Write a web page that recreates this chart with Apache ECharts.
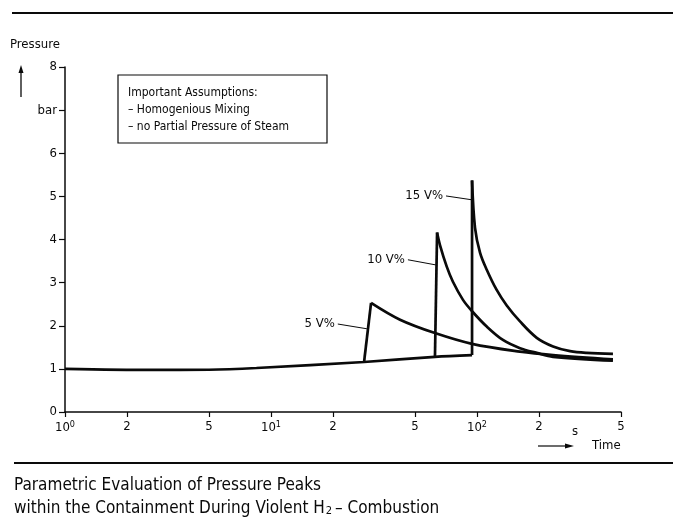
<!DOCTYPE html>
<html><head><meta charset="utf-8">
<script src="https://cdn.jsdelivr.net/npm/echarts@6/dist/echarts.min.js"></script>
<style>html,body{margin:0;padding:0;background:#fff}#c{width:673px;height:522px}</style>
</head><body><div id="c"></div>
<script>
const FONT = '"Liberation Sans Narrow","DejaVu Sans Condensed","Liberation Sans",sans-serif';
const INK = '#0a0a0a';

// x axis (time, s, logarithmic)
const tickTimes = [1, 2, 5, 10, 20, 50, 100, 200, 500];
const tickLabels = ['{b|10}{s|0}', '2', '5', '{b|10}{s|1}', '2', '5', '{b|10}{s|2}', '2', '5'];
// y axis (pressure, bar)
const yTicks = [0, 1, 2, 3, 4, 5, 6, 7, 8];
const yTickLabels = ['0', '1', '2', '3', '4', '5', '6', 'bar', '8'];

// common pre-combustion baseline
const baseTime = [1, 2.6, 5, 8.5, 28.3, 62.5, 94.6];
const basePressure = [1.0, 0.975, 0.98, 1.02, 1.16, 1.28, 1.32];

// 5 V% : ignition + decay
const v5Time = [28.3, 30.6, 42.3, 62.5, 94.6, 161.7, 234, 457];
const v5Pressure = [1.16, 2.53, 2.14, 1.83, 1.58, 1.40, 1.32, 1.22];
// 10 V%
const v10Time = [62.5, 64, 66.1, 71.3, 76.4, 85.5, 94.9, 111.5, 133.6, 161.7, 195, 234, 457];
const v10Pressure = [1.28, 4.16, 3.87, 3.37, 3.02, 2.6, 2.33, 1.98, 1.67, 1.48, 1.37, 1.28, 1.19];
// 15 V%
const v15Time = [94.6, 94.6, 97.8, 103.5, 111.5, 124.6, 139.4, 161.7, 195, 234, 283, 341, 457];
const v15Pressure = [1.32, 5.37, 4.27, 3.69, 3.3, 2.83, 2.47, 2.1, 1.72, 1.52, 1.41, 1.37, 1.35];

// curve labels with leader lines
const curveNames = ['5 V%', '10 V%', '15 V%'];
const leaderStartTime = [21.1, 46.2, 70.7];
const leaderStartP = [2.04, 3.53, 5.01];
const leaderEndTime = [29.2, 63.2, 94.6];
const leaderEndP = [1.93, 3.41, 4.92];

const lg = t => Math.log10(t);
const pairs = (ts, ps) => ts.map((t, i) => [lg(t), ps[i]]);

const curves = [[v5Time, v5Pressure], [v10Time, v10Pressure], [v15Time, v15Pressure]];
const series = [];
series.push({
  type: 'line', data: pairs(baseTime, basePressure), symbol: 'none', smooth: 0.3,
  lineStyle: { color: INK, width: 2.7 }, silent: true, z: 3
});
curves.forEach((c, k) => {
  const d = pairs(c[0], c[1]);
  series.push({
    type: 'line', data: d.slice(0, 2), symbol: 'none',
    lineStyle: { color: INK, width: 2.7 }, silent: true, z: 3
  });
  series.push({
    type: 'line', data: d.slice(1), symbol: 'none', smooth: 0.35,
    lineStyle: { color: INK, width: 2.7 }, silent: true, z: 3,
    markLine: {
      silent: true, symbol: 'none', animation: false,
      lineStyle: { color: INK, width: 1, type: 'solid' },
      label: {
        show: true, position: 'start', formatter: curveNames[k], distance: 3,
        color: INK, fontFamily: FONT, fontSize: 13
      },
      data: [[
        { coord: [lg(leaderStartTime[k]), leaderStartP[k]] },
        { coord: [lg(leaderEndTime[k]), leaderEndP[k]] }
      ]]
    }
  });
});

const tickLogs = tickTimes.map(lg);
const chart = echarts.init(document.getElementById('c'), null, { renderer: 'canvas' });
chart.setOption({
  animation: false,
  backgroundColor: '#fff',
  grid: { left: 65, right: 52, top: 67, bottom: 110 },
  xAxis: {
    type: 'value', min: 0, max: lg(500),
    axisLine: { lineStyle: { color: INK, width: 1.5 } },
    axisTick: { show: true, length: 5, lineStyle: { color: INK, width: 1.2 }, customValues: tickLogs },
    splitLine: { show: false },
    axisLabel: {
      customValues: tickLogs, margin: 8, color: INK, fontFamily: FONT, fontSize: 13,
      formatter: v => {
        let best = 0;
        tickLogs.forEach((tv, i) => { if (Math.abs(tv - v) < Math.abs(tickLogs[best] - v)) best = i; });
        return tickLabels[best];
      },
      rich: {
        b: { fontFamily: FONT, fontSize: 13, color: INK },
        s: { fontFamily: FONT, fontSize: 9, color: INK, verticalAlign: 'top', padding: [0, 0, 7, 0] }
      }
    }
  },
  yAxis: {
    type: 'value', min: 0, max: 8, interval: 1,
    axisLine: { show: true, lineStyle: { color: INK, width: 1.5 } },
    axisTick: { show: true, length: 6, lineStyle: { color: INK, width: 1.2 } },
    splitLine: { show: false },
    axisLabel: {
      margin: 8, color: INK, fontFamily: FONT, fontSize: 13,
      formatter: v => yTickLabels[yTicks.indexOf(Math.round(v))]
    }
  },
  series: series,
  graphic: [
    { type: 'line', shape: { x1: 12, y1: 13, x2: 673, y2: 13 }, style: { stroke: INK, lineWidth: 2 } },
    { type: 'line', shape: { x1: 14, y1: 463, x2: 673, y2: 463 }, style: { stroke: INK, lineWidth: 2 } },
    { type: 'text', left: 10, top: 38, style: { text: 'Pressure', font: '13px ' + FONT, fill: INK } },
    { type: 'line', shape: { x1: 21, y1: 97, x2: 21, y2: 72 }, style: { stroke: INK, lineWidth: 1.3 } },
    { type: 'polygon', shape: { points: [[21, 65], [18.5, 73], [23.5, 73]] }, style: { fill: INK } },
    { type: 'rect', shape: { x: 118, y: 75, width: 209, height: 68 }, style: { fill: '#fff', stroke: INK, lineWidth: 1.2 }, z: 10 },
    { type: 'text', x: 128, y: 87, style: { text: 'Important Assumptions:', font: '12px ' + FONT, fill: INK }, z: 11 },
    { type: 'text', x: 128, y: 104, style: { text: '– Homogenious Mixing', font: '12px ' + FONT, fill: INK }, z: 11 },
    { type: 'text', x: 128, y: 121, style: { text: '– no Partial Pressure of Steam', font: '12px ' + FONT, fill: INK }, z: 11 },
    { type: 'text', x: 572, y: 425, style: { text: 's', font: '13px ' + FONT, fill: INK } },
    { type: 'line', shape: { x1: 538, y1: 446, x2: 566, y2: 446 }, style: { stroke: INK, lineWidth: 1.2 } },
    { type: 'polygon', shape: { points: [[574, 446], [565, 443.5], [565, 448.5]] }, style: { fill: INK } },
    { type: 'text', x: 592, y: 439, style: { text: 'Time', font: '13px ' + FONT, fill: INK } },
    { type: 'text', x: 14, y: 477, style: { text: 'Parametric Evaluation of Pressure Peaks', font: '17px ' + FONT, fill: INK } },
    { type: 'text', x: 14, y: 500, style: {
      text: 'within the Containment During Violent {n|H}{sub|2}– Combustion',
      font: '17px ' + FONT, fill: INK,
      rich: {
        n: { fontFamily: FONT, fontSize: 17, fill: INK },
        sub: { fontFamily: FONT, fontSize: 11, fill: INK, verticalAlign: 'bottom', padding: [6, 3, 0, 1] }
      }
    } }
  ]
});
</script></body></html>
